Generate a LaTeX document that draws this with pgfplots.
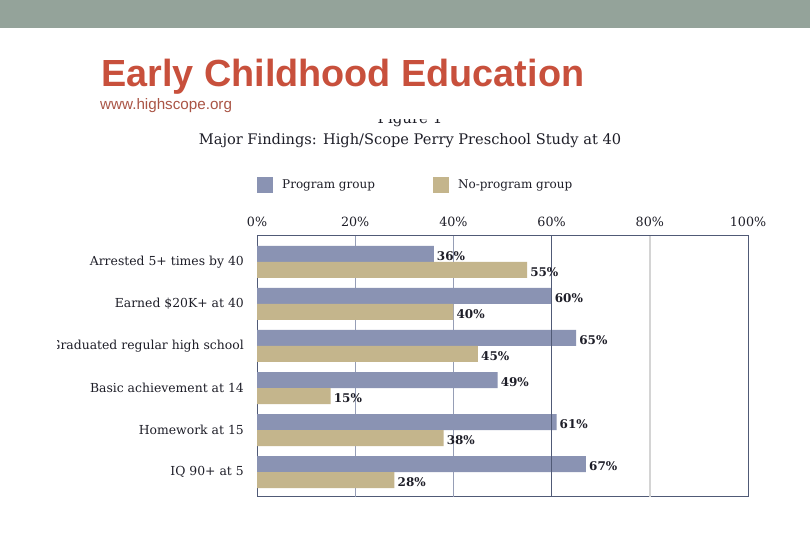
\documentclass[border=0pt]{standalone}
\usepackage{fontspec}
\setmainfont{DejaVu Serif}
\newfontfamily\slidefont{Liberation Sans}
\usepackage{pgfplots}
\pgfplotsset{compat=1.18}

\definecolor{band}{RGB}{148,163,154}
\definecolor{titlered}{RGB}{200,80,60}
\definecolor{urlred}{RGB}{170,85,70}
\definecolor{prog}{RGB}{138,147,179}
\definecolor{noprog}{RGB}{196,181,140}
\definecolor{frame}{RGB}{80,90,118}
\definecolor{gridblue}{RGB}{150,158,182}
\definecolor{gridlight}{RGB}{212,212,212}
\definecolor{ink}{RGB}{30,30,40}

\begin{document}
\begin{tikzpicture}
\useasboundingbox (0,0) rectangle (810bp,540bp);
\fill[white] (0,0) rectangle (810bp,540bp);
% slide header band and title
\fill[band] (0,512bp) rectangle (810bp,540bp);
\node[anchor=base west, inner sep=0, text=titlered,
      font=\slidefont\bfseries\fontsize{37.8bp}{40bp}\selectfont]
  at (101bp,453bp) {Early Childhood Education};
\node[anchor=base west, inner sep=0, text=urlred,
      font=\slidefont\fontsize{15.2bp}{17bp}\selectfont]
  at (100bp,430bp) {www.highscope.org};

\begin{scope}
\clip (57bp,0) rectangle (810bp,420bp);
\node[anchor=base, inner sep=0, text=ink, font=\fontsize{15bp}{17bp}\selectfont]
  at (410bp,416bp) {Figure 1};
\node[anchor=base, inner sep=0, text=ink, font=\fontsize{14.6bp}{17bp}\selectfont]
  at (410bp,395bp) {Major Findings: High/Scope Perry Preschool Study at 40};

\begin{axis}[
  at={(257bp,43bp)}, anchor=south west,
  scale only axis, width=491bp, height=261bp,
  xmin=0, xmax=100, ymin=-0.595, ymax=5.619,
  xbar, bar width=16bp,
  /pgf/number format/assume math mode=true,
  axis line style={frame, line width=1bp},
  xtick={0,20,40,60,80,100},
  xticklabel pos=upper,
  xticklabel={\pgfmathprintnumber{\tick}\%},
  xticklabel style={anchor=base, yshift=9bp, inner sep=0pt, text=ink,
                    font=\fontsize{12.7bp}{14bp}\selectfont},
  ytick={0,1,2,3,4,5},
  yticklabels={IQ 90+ at 5, Homework at 15, Basic achievement at 14,
               Graduated regular high school, Earned \$20K+ at 40,
               Arrested 5+ times by 40},
  yticklabel style={anchor=east, inner sep=0pt, xshift=-13bp, text=ink,
                    font=\fontsize{12.4bp}{14bp}\selectfont},
  major tick length=0pt,
  point meta=x,
  nodes near coords={\pgfmathprintnumber{\pgfplotspointmeta}\%},
  nodes near coords style={anchor=west, inner sep=0pt, xshift=3bp, yshift=-2bp,
                           text=ink, font=\bfseries\fontsize{12bp}{13bp}\selectfont},
  legend columns=2,
  legend style={at={(axis description cs:0,1.195)}, anchor=west,
                draw=none, fill=none, inner sep=0pt, text=ink,
                font=\fontsize{12bp}{14bp}\selectfont,
                /tikz/every even column/.append style={column sep=56bp}},
  legend cell align=left,
  legend image code/.code={\fill[#1,draw=none] (0bp,-8bp) rectangle (16bp,8bp);
                           \path (23bp,0bp);},
]
% light grid lines behind the bars
\draw[gridblue, line width=0.8bp] (axis cs:20,-0.595) -- (axis cs:20,5.619);
\draw[gridblue, line width=0.8bp] (axis cs:40,-0.595) -- (axis cs:40,5.619);
\draw[gridlight, line width=2bp] (axis cs:80,-0.595) -- (axis cs:80,5.619);

\addplot[fill=prog, draw=none, bar shift=8bp] coordinates {
  (67,0) (61,1) (49,2) (65,3) (60,4) (36,5)};
\addlegendentry{Program group}
\addplot[fill=noprog, draw=none, bar shift=-8bp] coordinates {
  (28,0) (38,1) (15,2) (45,3) (40,4) (55,5)};
\addlegendentry{No-program group}

% reference line at 60% drawn over the bars
\draw[frame, line width=1.4bp] (axis cs:60,-0.595) -- (axis cs:60,5.619);
\end{axis}
\end{scope}
\end{tikzpicture}
\end{document}
